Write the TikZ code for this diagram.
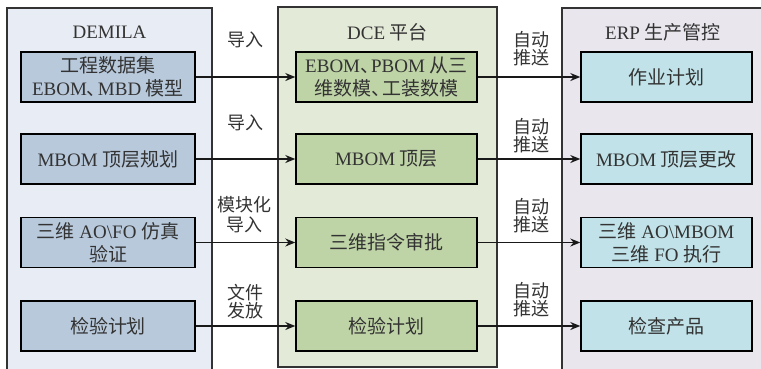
\documentclass[tikz,border=0pt]{standalone}
\usepackage{fontspec}
\setmainfont{Liberation Serif}
\newfontfamily\cjk{Noto Sans CJK SC}
\usetikzlibrary{arrows.meta}
\definecolor{lcont}{HTML}{E8ECF4}
\definecolor{lboxc}{HTML}{B8C9DC}
\definecolor{mcont}{HTML}{E4EAD8}
\definecolor{mboxc}{HTML}{BED3A6}
\definecolor{rcont}{HTML}{E9E6EE}
\definecolor{rboxc}{HTML}{C0E2E8}
\definecolor{txt}{HTML}{333333}
\newcommand\boxfont{\fontsize{19}{23}\selectfont}
\newcommand\labfont{\fontsize{18}{17.5}\selectfont\cjk}
\newcommand\dun{{\cjk 、}\kern-.42em}
\begin{document}
\begin{tikzpicture}[x=1pt,y=-1pt,
  cont/.style={draw=black!80, line width=1.2pt},
  ibox/.style={draw=black, line width=1.4pt, inner sep=0pt, align=center,
    text=txt, font=\boxfont, minimum height=50pt},
  lbox/.style={ibox, fill=lboxc, minimum width=174pt},
  mbox/.style={ibox, fill=mboxc, minimum width=181pt},
  rbox/.style={ibox, fill=rboxc, minimum width=171pt},
  ttl/.style={text=txt, font=\boxfont, inner sep=0pt},
  lab/.style={align=center, text=txt, inner sep=0pt, font=\labfont},
  arr/.style={-{Stealth[length=10pt,width=8pt]}, line width=1.3pt, draw=black!90}]
\useasboundingbox (0,0) rectangle (761,368);
% containers
\filldraw[cont, fill=lcont] (7,8) rectangle (212,375);
\filldraw[cont, fill=mcont] (278,7) rectangle (497,367);
\filldraw[cont, fill=rcont] (562,8) rectangle (775,375);
% titles
\node[ttl] (t1) at (109.5,32) {DEMILA};
\node[ttl] (t2) at (387.5,32) {DCE {\cjk 平台}};
\node[ttl] (t3) at (663,32) {ERP {\cjk 生产管控}};
% left boxes
\node[lbox] (l1) at (108,77) {{\cjk 工程数据集}\\EBOM\dun MBD {\cjk 模型}};
\node[lbox] (l2) at (108,159) {MBOM {\cjk 顶层规划}};
\node[lbox] (l3) at (108,242.5) {{\cjk 三维} AO\textbackslash FO {\cjk 仿真}\\{\cjk 验证}};
\node[lbox] (l4) at (108,326) {\cjk 检验计划};
% middle boxes
\node[mbox] (m1) at (386.5,77) {EBOM\dun PBOM {\cjk 从三}\\{\cjk 维数模}\dun{\cjk 工装数模}};
\node[mbox] (m2) at (386.5,159) {MBOM {\cjk 顶层}};
\node[mbox] (m3) at (386.5,242.5) {\cjk 三维指令审批};
\node[mbox] (m4) at (386.5,326) {\cjk 检验计划};
% right boxes
\node[rbox] (r1) at (666.5,77) {\cjk 作业计划};
\node[rbox] (r2) at (666.5,159) {MBOM {\cjk 顶层更改}};
\node[rbox] (r3) at (666.5,242.5) {{\cjk 三维} AO\textbackslash MBOM\\{\cjk 三维} FO {\cjk 执行}};
\node[rbox] (r4) at (666.5,326) {\cjk 检查产品};
% arrows
\foreach \i in {1,2,3,4}{
  \draw[arr] (l\i.east) -- (m\i.west);
  \draw[arr] (m\i.east) -- (r\i.west);
}
% labels left
\node[lab] (a1) at (245,40) {导入};
\node[lab] (a2) at (245,123) {导入};
\node[lab, font=\fontsize{18}{20}\selectfont\cjk] (a3) at (244,214.5) {模块化\\导入};
\node[lab] (a4) at (245,301.5) {文件\\发放};
% labels right
\node[lab] (b1) at (531,48.5) {自动\\推送};
\node[lab] (b2) at (531,135.5) {自动\\推送};
\node[lab] (b3) at (531,215.5) {自动\\推送};
\node[lab] (b4) at (531,299.5) {自动\\推送};
\end{tikzpicture}
\end{document}
